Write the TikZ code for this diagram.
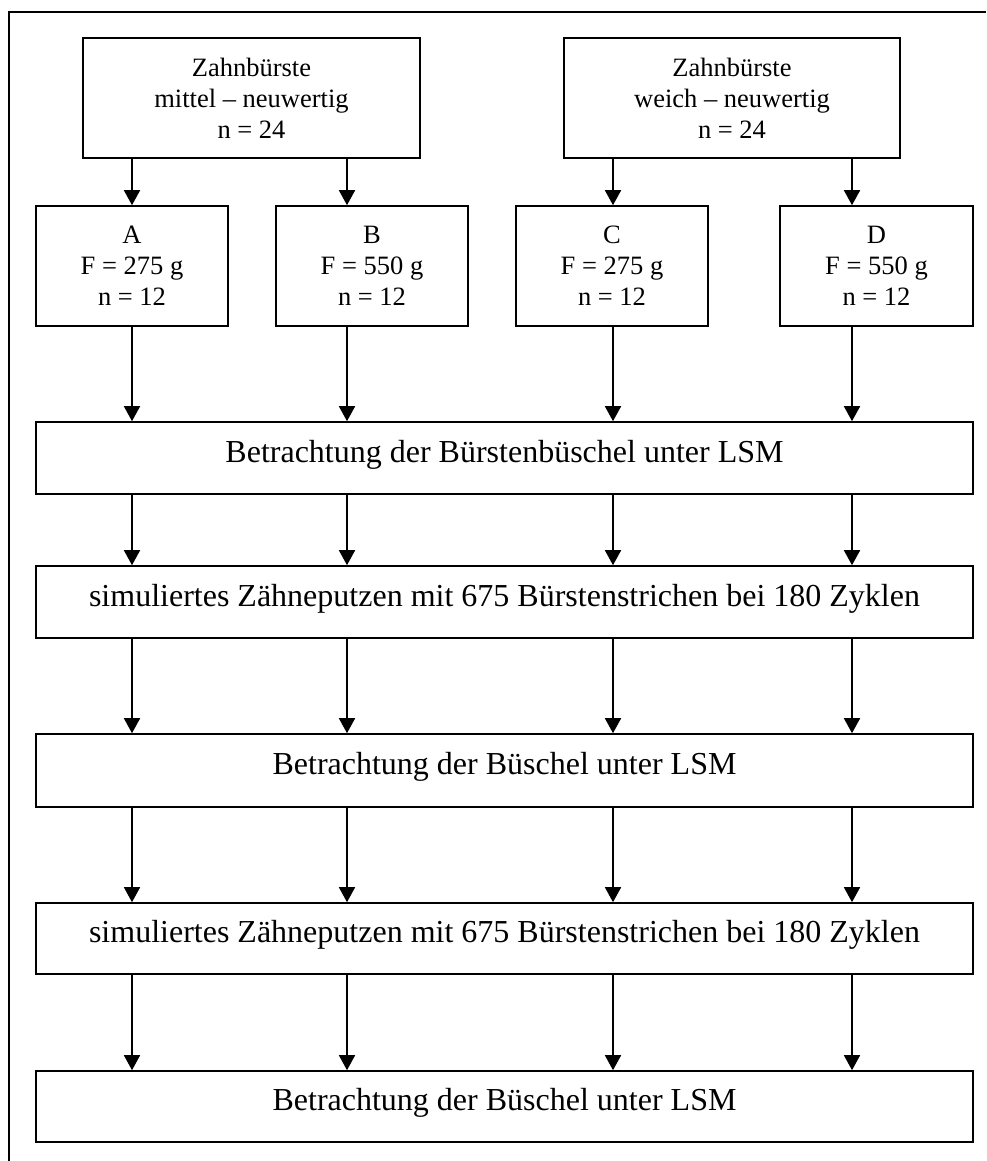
\documentclass[tikz,border=0pt]{standalone}
\usepackage{fontspec}
\setmainfont{Liberation Serif}
\usetikzlibrary{arrows.meta}
\begin{document}
\begin{tikzpicture}[x=1pt,y=-1pt,
  box/.style={draw,line width=1.6pt,align=center,inner sep=0pt,
    font=\fontsize{26.5}{31}\selectfont},
  wide/.style={box,minimum width=937pt,font=\fontsize{32}{38}\selectfont,
    text height=22pt,text depth=14pt},
  arr/.style={line width=1.6pt,-{Triangle[length=15pt,width=16pt]}}]
\useasboundingbox (0,0) rectangle (986,1161);
\draw[line width=1.6pt] (986,12) -- (9,12) -- (9,1161);
\node[box,minimum width=337pt,minimum height=120pt] (t1) at (251.5,98) {Zahnbürste\\mittel – neuwertig\\n = 24};
\node[box,minimum width=336pt,minimum height=120pt] (t2) at (732,98) {Zahnbürste\\weich – neuwertig\\n = 24};
\node[box,minimum width=192pt,minimum height=120pt] (A) at (132,266) {A\\F = 275 g\\n = 12};
\node[box,minimum width=192pt,minimum height=120pt] (B) at (372,266) {B\\F = 550 g\\n = 12};
\node[box,minimum width=192pt,minimum height=120pt] (C) at (612,266) {C\\F = 275 g\\n = 12};
\node[box,minimum width=193pt,minimum height=120pt] (D) at (876.5,266) {D\\F = 550 g\\n = 12};
\node[wide,minimum height=72pt] (s1) at (504.5,458) {Betrachtung der Bürstenbüschel unter LSM};
\node[wide,minimum height=72pt] (s2) at (504.5,602) {simuliertes Zähneputzen mit 675 Bürstenstrichen bei 180 Zyklen};
\node[wide,minimum height=73pt] (s3) at (504.5,770.5) {Betrachtung der Büschel unter LSM};
\node[wide,minimum height=71pt] (s4) at (504.5,938.5) {simuliertes Zähneputzen mit 675 Bürstenstrichen bei 180 Zyklen};
\node[wide,minimum height=71pt] (s5) at (504.5,1106.5) {Betrachtung der Büschel unter LSM};
\coordinate (xa) at (132,0);
\coordinate (xb) at (347,0);
\coordinate (xc) at (613,0);
\coordinate (xd) at (852,0);
\draw[arr] (t1.south -| xa) -- (A.north -| xa);
\draw[arr] (t1.south -| xb) -- (B.north -| xb);
\draw[arr] (t2.south -| xc) -- (C.north -| xc);
\draw[arr] (t2.south -| xd) -- (D.north -| xd);
\draw[arr] (A.south -| xa) -- (s1.north -| xa);
\draw[arr] (B.south -| xb) -- (s1.north -| xb);
\draw[arr] (C.south -| xc) -- (s1.north -| xc);
\draw[arr] (D.south -| xd) -- (s1.north -| xd);
\foreach \u/\v in {s1/s2,s2/s3,s3/s4,s4/s5}{
  \foreach \c in {xa,xb,xc,xd}{
    \draw[arr] (\u.south -| \c) -- (\v.north -| \c);
  }
}
\end{tikzpicture}
\end{document}
